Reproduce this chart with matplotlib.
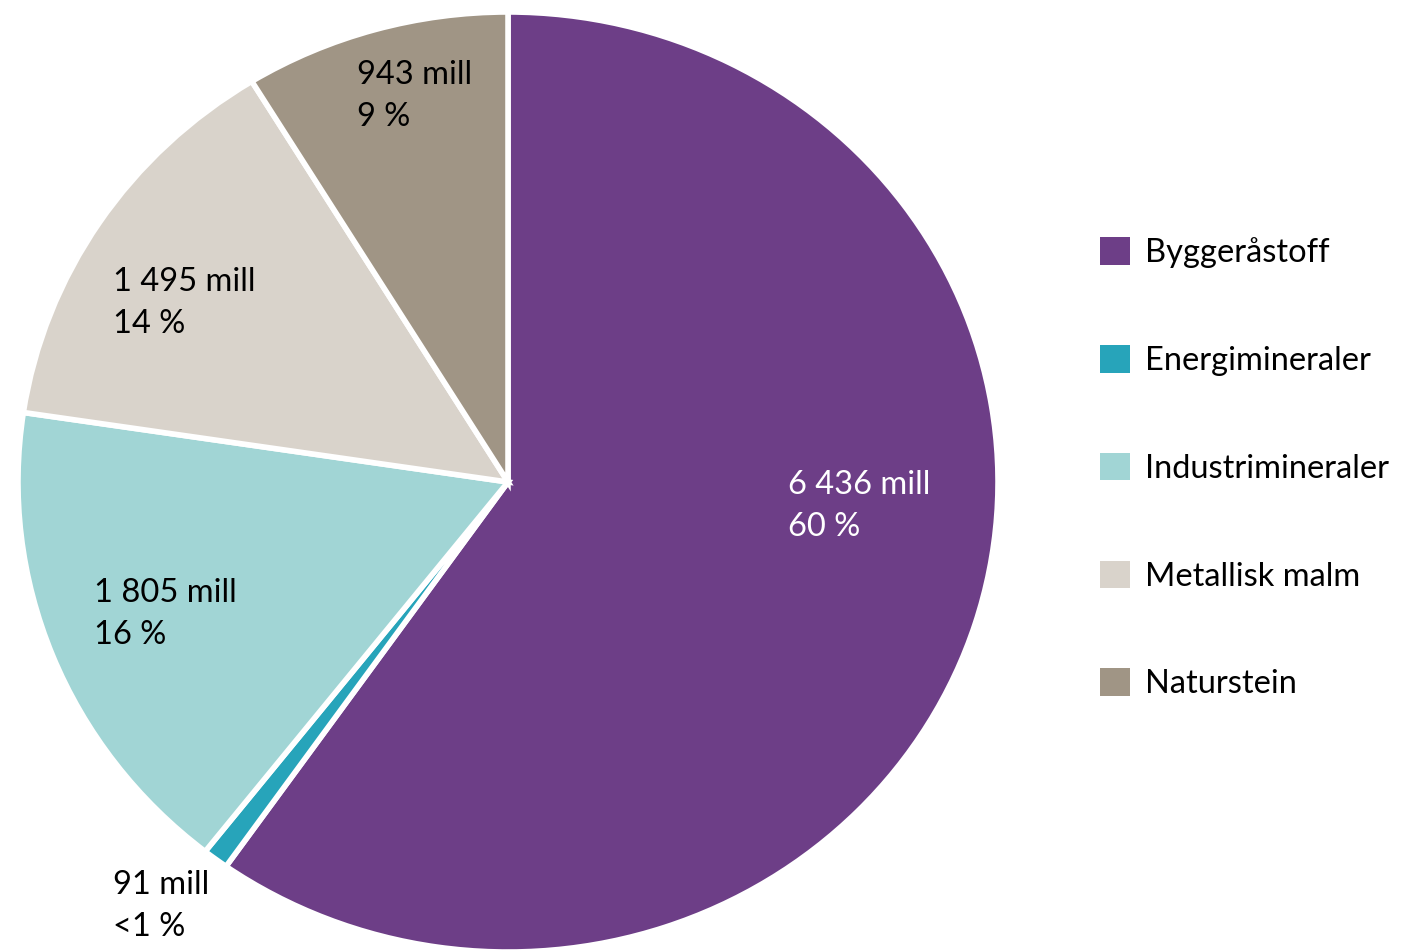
import matplotlib
matplotlib.use('Agg')
import matplotlib.pyplot as plt
from matplotlib.patches import Patch

plt.rcParams['font.family'] = ['Lato', 'DejaVu Sans']

# Data
categories = ['Byggeråstoff', 'Energimineraler', 'Industrimineraler', 'Metallisk malm', 'Naturstein']
values = [6436, 91, 1805, 1495, 943]
value_labels = ['6 436 mill', '91 mill', '1 805 mill', '1 495 mill', '943 mill']
pct_labels = ['60 %', '<1 %', '16 %', '14 %', '9 %']
colors = ['#6D3E87', '#27A4BA', '#A1D5D5', '#D9D3CB', '#A09585']

# label anchor positions (pie data units, left edge / vertical middle)
label_pos = [(0.571, -0.051), (-0.806, -0.902), (-0.845, -0.281), (-0.806, 0.381), (-0.308, 0.821)]
label_colors = ['white', 'black', 'black', 'black', 'black']

fig = plt.figure(figsize=(14.1, 9.5), dpi=100)
ax = fig.add_axes([18 / 1410, -2 / 950, 980 / 1410, 940 / 950])

wedges, _ = ax.pie(values, colors=colors, startangle=90, counterclock=False,
                   radius=1, wedgeprops=dict(edgecolor='white', linewidth=4))
ax.set_aspect('auto')
ax.set_xlim(-1, 1)
ax.set_ylim(-1, 1)
ax.axis('off')

for (x, y), v, p, c in zip(label_pos, value_labels, pct_labels, label_colors):
    ax.text(x, y, v + '\n' + p, ha='left', va='center', fontsize=23.5,
            color=c, linespacing=1.52, clip_on=False)

handles = [Patch(facecolor=c, edgecolor='none') for c in colors]
fig.legend(handles, categories, loc='center left', bbox_to_anchor=(1100 / 1410, 0.507),
           frameon=False, fontsize=23.5, handlelength=0.92, handleheight=0.92,
           handletextpad=0.45, labelspacing=2.35, borderpad=0, borderaxespad=0)

fig.savefig('out.png', dpi=100)
